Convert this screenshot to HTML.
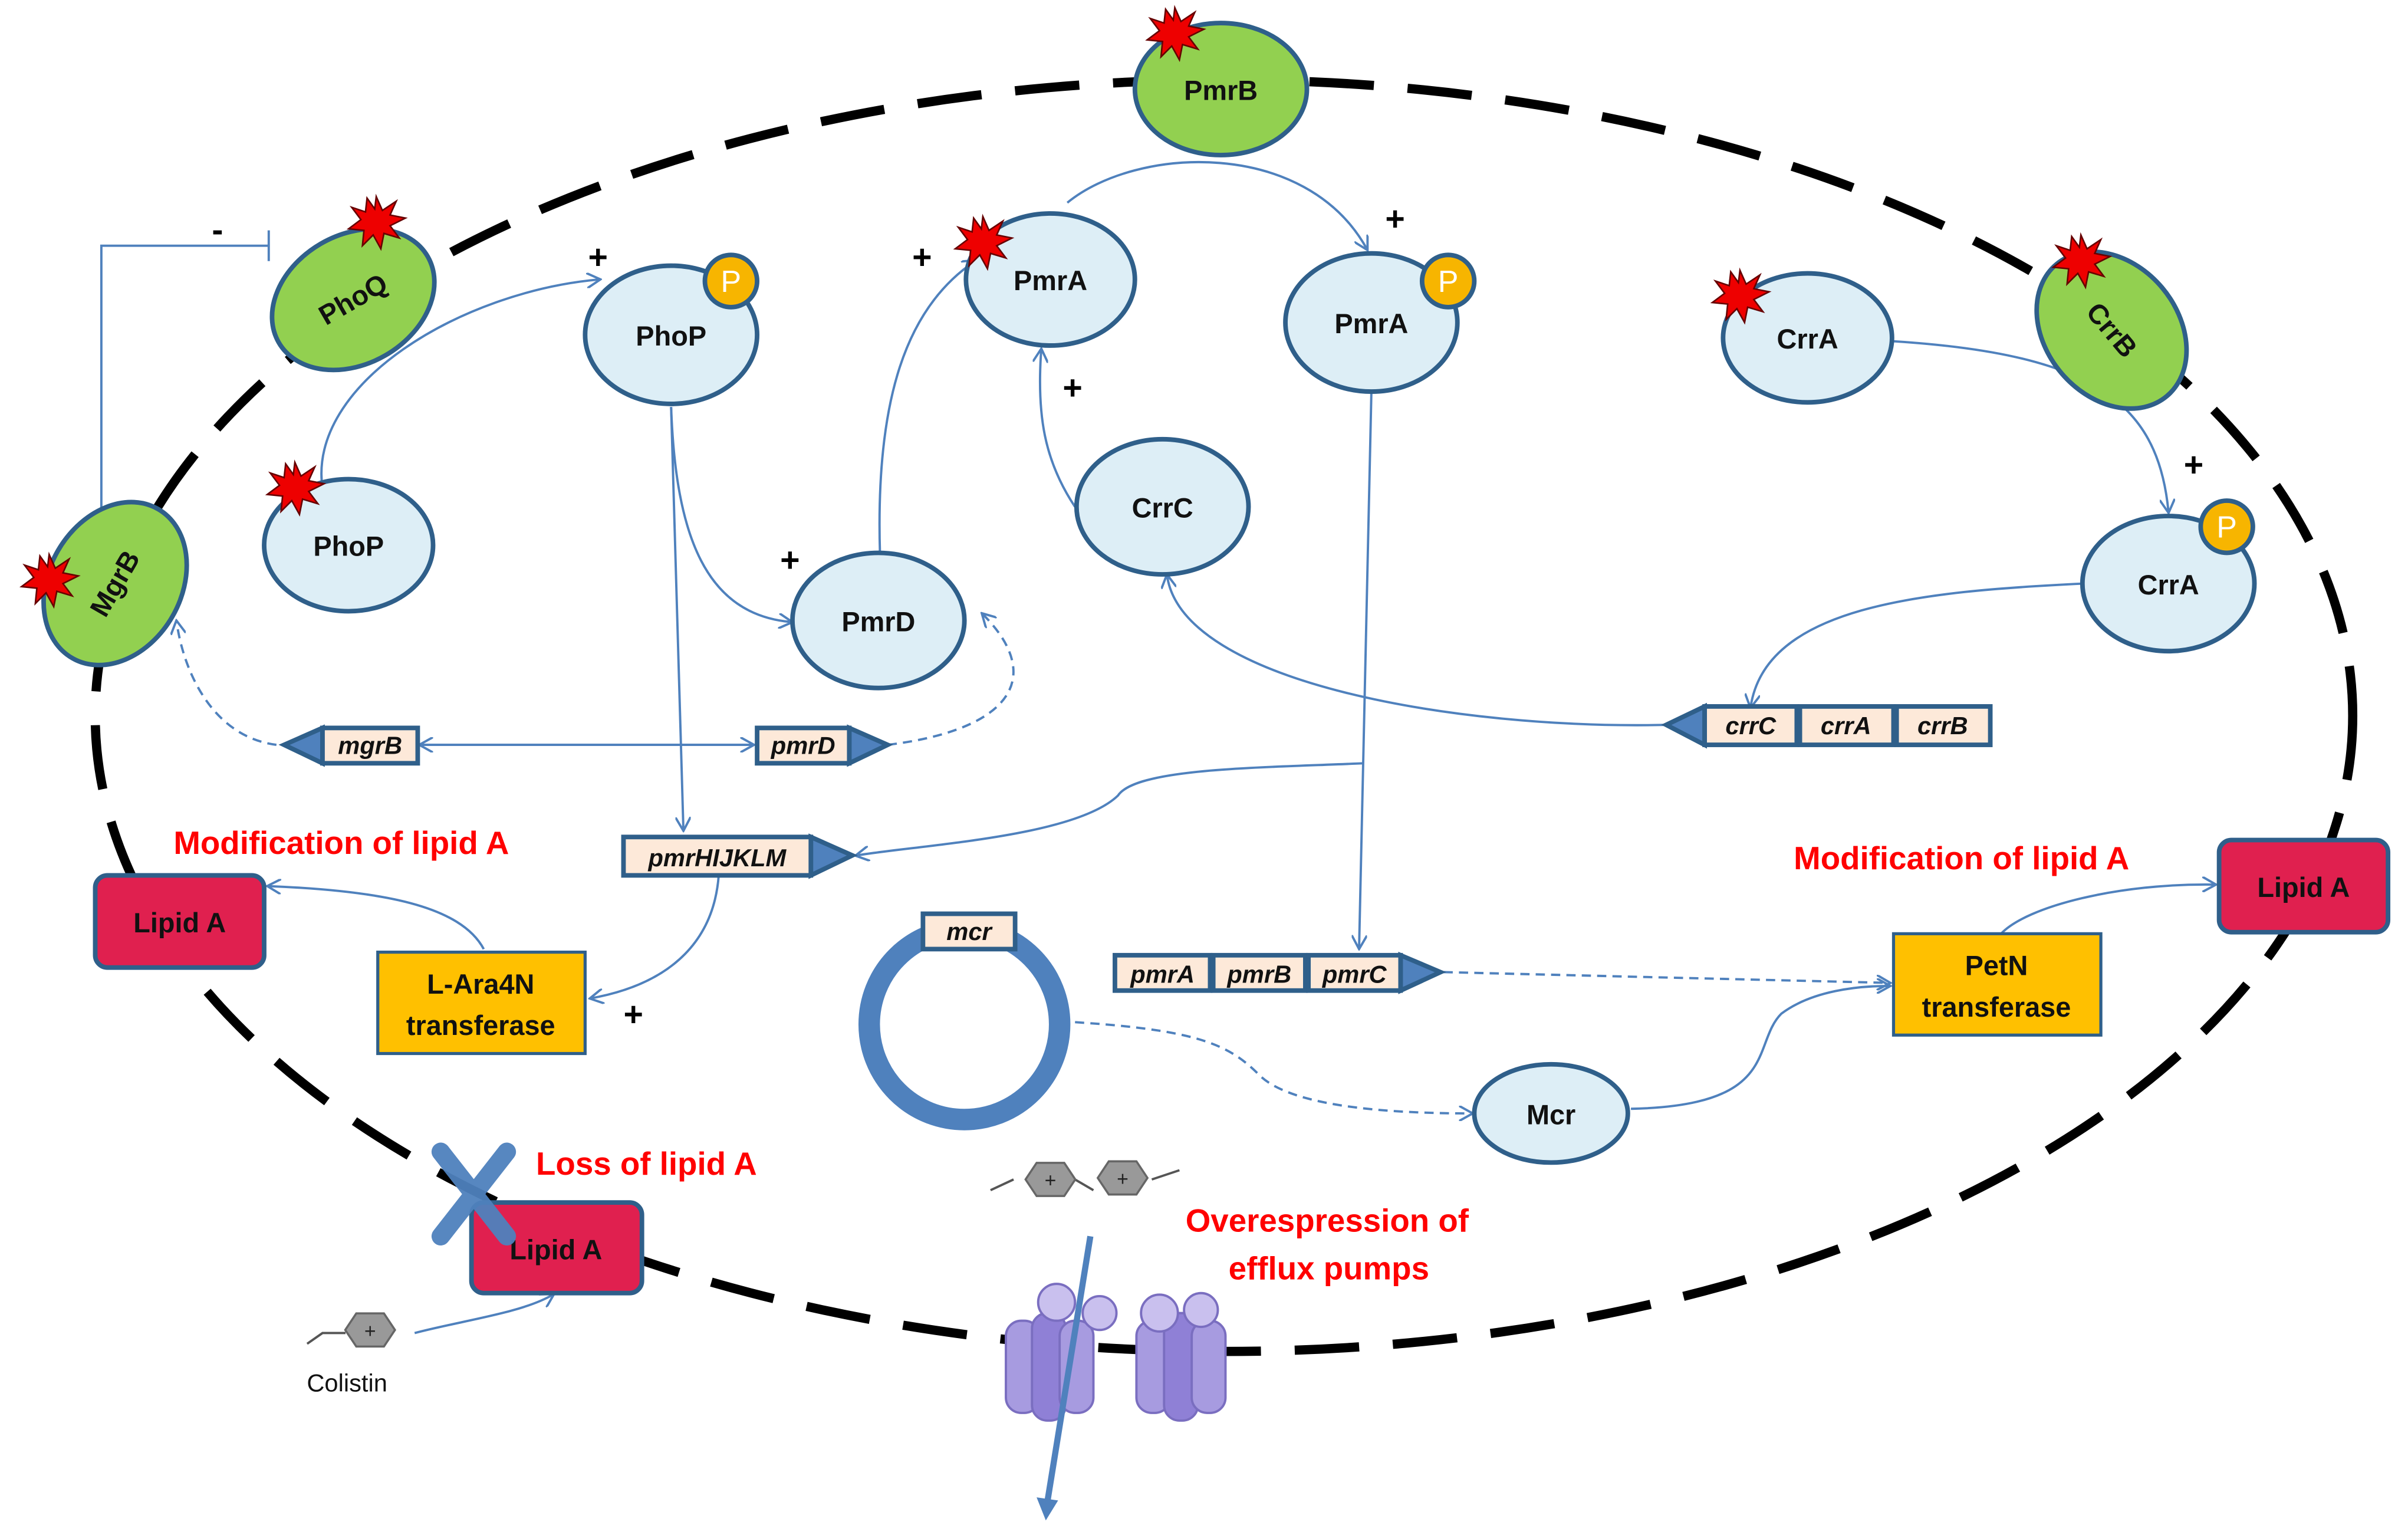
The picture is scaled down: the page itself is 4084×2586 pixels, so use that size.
<!DOCTYPE html>
<html><head><meta charset="utf-8"><style>
html,body{margin:0;padding:0;background:#fff}
svg{display:block}
text{font-family:"Liberation Sans",sans-serif}
</style></head><body>
<svg width="4084" height="2586" viewBox="0 0 1568 993" preserveAspectRatio="none" xmlns="http://www.w3.org/2000/svg">
<defs>
<marker id="a" markerWidth="10" markerHeight="10" refX="8" refY="5" orient="auto" markerUnits="userSpaceOnUse"><path d="M0,0 L9,5 L0,10" fill="none" stroke="#4f81bd" stroke-width="1.5"/></marker>
<g id="star"><polygon points="0,-17 4,-8 13,-14 9,-5 19,-3 9,2 15,10 5,7 3,17 -2,8 -9,15 -8,5 -18,4 -10,-2 -16,-10 -7,-7 -6,-16 -1,-9" fill="#e00" stroke="#600" stroke-width="1"/></g>
<g id="hex"><polygon points="-10,-12 10,-12 18,0 10,12 -10,12 -18,0" transform="scale(0.9)" fill="#999" stroke="#666" stroke-width="1.5"/><text x="0" y="5" font-size="13" text-anchor="middle" fill="#222">+</text></g>
</defs>
<rect width="1568" height="993" fill="#fff"/>
<ellipse cx="797" cy="466" rx="735" ry="414" fill="none" stroke="#000" stroke-width="6" stroke-dasharray="42,22"/>

<g fill="none" stroke="#4f81bd" stroke-width="1.5">
<path d="M210,318 C200,250 300,190 390,182" marker-end="url(#a)"/>
<path d="M66,335 L66,160 L175,160"/><path d="M175,150 L175,170"/>
<path d="M695,132 C740,95 850,90 890,162" marker-end="url(#a)"/>
<path d="M437,265 L445,540" marker-end="url(#a)"/>
<path d="M437,265 C440,350 460,400 515,405" marker-end="url(#a)"/>
<path d="M573,360 C570,260 590,200 635,170" marker-end="url(#a)"/>
<path d="M700,330 C680,300 675,270 678,228" marker-end="url(#a)"/>
<path d="M893,255 L885,617" marker-end="url(#a)"/>
<path d="M888,497 C820,500 740,500 728,518 C700,545 600,550 558,557" marker-end="url(#a)"/>
<path d="M1230,222 C1360,230 1405,260 1412,333" marker-end="url(#a)"/>
<path d="M1357,380 C1250,385 1150,395 1140,460" marker-end="url(#a)"/>
<path d="M1085,472 C950,475 770,445 760,375" marker-end="url(#a)"/>
<path d="M275,485 L490,485" marker-end="url(#a)"/>
<path d="M275,485 L490,485" transform="rotate(180 382 485)" marker-end="url(#a)"/>
<path d="M468,570 C465,610 440,640 385,650" marker-end="url(#a)"/>
<path d="M315,618 C300,590 250,580 175,577" marker-end="url(#a)"/>
<path d="M1062,722 C1160,720 1140,680 1160,660 C1180,645 1210,642 1230,642" marker-end="url(#a)"/>
<path d="M1303,608 C1320,590 1380,575 1442,576" marker-end="url(#a)"/>
<path d="M270,868 C300,860 340,855 360,843" marker-end="url(#a)"/>
<path d="M180,485 C140,480 120,440 115,405" stroke-dasharray="6,4" marker-end="url(#a)"/>
<path d="M578,485 C660,475 680,440 640,400" stroke-dasharray="6,4" marker-end="url(#a)"/>
<path d="M940,633 L1230,640" stroke-dasharray="6,4" marker-end="url(#a)"/>
<path d="M690,665 C780,670 800,680 820,700 C840,720 900,725 958,725" stroke-dasharray="6,4" marker-end="url(#a)"/>
</g>

<g font-size="22" font-weight="bold" fill="#000">
<text x="138" y="157">-</text><text x="383" y="175">+</text><text x="594" y="175">+</text>
<text x="902" y="150">+</text><text x="692" y="260">+</text><text x="508" y="372">+</text>
<text x="1422" y="310">+</text><text x="406" y="668">+</text>
</g>

<g stroke="#2f5f8a" stroke-width="3" fill="#ddeef6">
<ellipse cx="437" cy="218" rx="56" ry="45"/>
<ellipse cx="227" cy="355" rx="55" ry="43"/>
<ellipse cx="684" cy="182" rx="55" ry="43"/>
<ellipse cx="893" cy="210" rx="56" ry="45"/>
<ellipse cx="1177" cy="220" rx="55" ry="42"/>
<ellipse cx="1412" cy="380" rx="56" ry="44"/>
<ellipse cx="757" cy="330" rx="56" ry="44"/>
<ellipse cx="572" cy="404" rx="56" ry="44"/>
<ellipse cx="1010" cy="725" rx="50" ry="32"/>
</g>
<g stroke="#2f5f8a" stroke-width="3" fill="#92d050">
<ellipse cx="795" cy="58" rx="56" ry="43"/>
<ellipse cx="230" cy="195" rx="56" ry="42" transform="rotate(-30 230 195)"/>
<ellipse cx="1375" cy="215" rx="56" ry="43" transform="rotate(50 1375 215)"/>
<ellipse cx="75" cy="380" rx="56" ry="43" transform="rotate(-60 75 380)"/>
</g>
<g stroke="#2f5f8a" stroke-width="3" fill="#f7b500">
<circle cx="476" cy="183" r="17"/><circle cx="943" cy="183" r="17"/><circle cx="1450" cy="343" r="17"/>
</g>
<g font-size="20" fill="#fff" text-anchor="middle"><text x="476" y="190">P</text><text x="943" y="190">P</text><text x="1450" y="350">P</text></g>

<g font-size="18" font-weight="bold" fill="#111" text-anchor="middle">
<text x="437" y="225">PhoP</text><text x="227" y="362">PhoP</text><text x="684" y="189">PmrA</text>
<text x="893" y="217">PmrA</text><text x="1177" y="227">CrrA</text><text x="1412" y="387">CrrA</text>
<text x="757" y="337">CrrC</text><text x="572" y="411">PmrD</text><text x="1010" y="732">Mcr</text>
<text x="795" y="65">PmrB</text>
<text x="230" y="201" transform="rotate(-30 230 195)">PhoQ</text>
<text x="1375" y="221" transform="rotate(50 1375 215)">CrrB</text>
<text x="75" y="386" transform="rotate(-60 75 380)">MgrB</text>
</g>

<use href="#star" x="245" y="145"/><use href="#star" x="192" y="318"/><use href="#star" x="640" y="158"/>
<use href="#star" x="765" y="22"/><use href="#star" x="1133" y="193"/><use href="#star" x="1355" y="170"/>
<use href="#star" x="32" y="378"/>

<g stroke="#2f5f8a" stroke-width="3" fill="#4f81bd">
<polygon points="185,485 210,474 210,497"/>
<polygon points="553,474 578,485 553,497"/>
<polygon points="528,545 555,557 528,570"/>
<polygon points="1085,472 1110,460 1110,485"/>
<polygon points="912,622 938,633 912,645"/>
</g>
<g stroke="#2f5f8a" stroke-width="3" fill="#fde9d9">
<rect x="210" y="474" width="62" height="23"/>
<rect x="493" y="474" width="60" height="23"/>
<rect x="406" y="545" width="122" height="25"/>
<rect x="1110" y="460" width="60" height="25"/><rect x="1172" y="460" width="61" height="25"/><rect x="1235" y="460" width="61" height="25"/>
<rect x="726" y="622" width="62" height="23"/><rect x="790" y="622" width="60" height="23"/><rect x="852" y="622" width="60" height="23"/>
</g>
<circle cx="628" cy="667" r="62" fill="none" stroke="#4f81bd" stroke-width="14"/>
<rect x="601" y="595" width="60" height="23" fill="#fde9d9" stroke="#2f5f8a" stroke-width="3"/>
<g font-size="16" font-style="italic" font-weight="bold" fill="#111" text-anchor="middle">
<text x="241" y="491">mgrB</text><text x="523" y="491">pmrD</text><text x="467" y="564">pmrHIJKLM</text>
<text x="1140" y="478">crrC</text><text x="1202" y="478">crrA</text><text x="1265" y="478">crrB</text>
<text x="757" y="640">pmrA</text><text x="820" y="640">pmrB</text><text x="882" y="640">pmrC</text>
<text x="631" y="612">mcr</text>
</g>

<g stroke="#2f5f8a" stroke-width="3" fill="#e0204f">
<rect x="62" y="570" width="110" height="60" rx="8"/>
<rect x="1445" y="547" width="110" height="60" rx="8"/>
<rect x="307" y="783" width="111" height="59" rx="8"/>
</g>
<g stroke="#2f5f8a" stroke-width="2" fill="#ffc000">
<rect x="246" y="620" width="135" height="66"/>
<rect x="1233" y="608" width="135" height="66"/>
</g>
<g font-size="18" font-weight="bold" fill="#111" text-anchor="middle">
<text x="117" y="607">Lipid A</text><text x="1500" y="584">Lipid A</text><text x="362" y="820">Lipid A</text>
<text x="313" y="647">L-Ara4N</text><text x="313" y="674">transferase</text>
<text x="1300" y="635">PetN</text><text x="1300" y="662">transferase</text>
</g>
<g font-size="21" font-weight="bold" fill="#f00">
<text x="113" y="556">Modification of lipid A</text>
<text x="1168" y="566">Modification of lipid A</text>
<text x="349" y="765">Loss of lipid A</text>
<text x="772" y="802">Overespression of</text>
<text x="800" y="833">efflux pumps</text>
</g>
<g stroke="#4f81bd" stroke-width="12" stroke-linecap="round" opacity="0.95">
<line x1="287" y1="750" x2="330" y2="805"/><line x1="330" y1="750" x2="287" y2="805"/>
</g>

<g stroke="#7a6ec0" stroke-width="1.5" fill="#a79be0">
<rect x="655" y="860" width="22" height="60" rx="10"/><rect x="672" y="855" width="22" height="70" rx="10" fill="#8f80d6"/><rect x="690" y="860" width="22" height="60" rx="10"/>
<circle cx="688" cy="848" r="12" fill="#c9c0ee"/><circle cx="716" cy="855" r="11" fill="#c9c0ee"/>
<rect x="740" y="860" width="22" height="60" rx="10"/><rect x="758" y="855" width="22" height="70" rx="10" fill="#8f80d6"/><rect x="776" y="860" width="22" height="60" rx="10"/>
<circle cx="755" cy="855" r="12" fill="#c9c0ee"/><circle cx="782" cy="853" r="11" fill="#c9c0ee"/>
</g>
<line x1="710" y1="805" x2="682" y2="978" stroke="#4f81bd" stroke-width="4"/>
<polygon points="675,975 689,977 681,990" fill="#4f81bd"/>
<g stroke="#555" stroke-width="1.5" fill="none">
<path d="M645,775 L660,768"/><path d="M700,768 L712,775"/><path d="M750,768 L768,762"/>
<path d="M200,875 L210,868 L225,868"/>
</g>
<use href="#hex" x="684" y="768"/><use href="#hex" x="731" y="767"/><use href="#hex" x="241" y="866"/>
<text x="226" y="906" font-size="16" fill="#111" text-anchor="middle">Colistin</text>
</svg>
</body></html>
